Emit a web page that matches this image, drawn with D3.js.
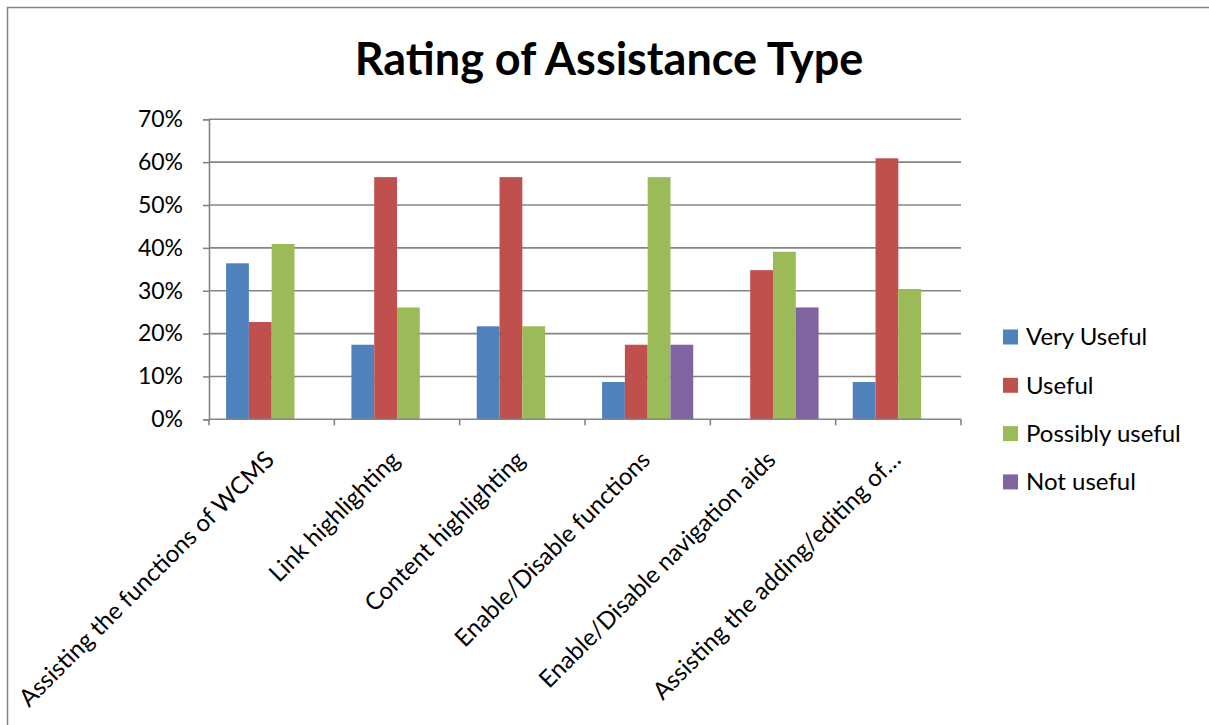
<!DOCTYPE html>
<html>
<head>
<meta charset="utf-8">
<script src="https://cdn.jsdelivr.net/npm/d3@7"></script>
<style>
  html, body { margin: 0; padding: 0; background: #fff; }
  svg { display: block; }
  text { font-family: Lato, "Open Sans", sans-serif; fill: #000; }
</style>
</head>
<body>
<svg id="chart" width="1209" height="725"></svg>
<script>
// Assistance types on the x axis
const categories = [
  "Assisting the functions of WCMS",
  "Link highlighting",
  "Content highlighting",
  "Enable/Disable functions",
  "Enable/Disable navigation aids",
  "Assisting the adding/editing of…"
];

// Share of respondents per rating (percent)
const seriesNames = ["Very Useful", "Useful", "Possibly useful", "Not useful"];
const veryUseful     = [36.4, 17.4, 21.7,  8.7,  0.0,  8.7];
const useful         = [22.7, 56.5, 56.5, 17.4, 34.8, 60.9];
const possiblyUseful = [40.9, 26.1, 21.7, 56.5, 39.1, 30.4];
const notUseful      = [ 0.0,  0.0,  0.0, 17.4, 26.1,  0.0];
const seriesColors = ["#4F81BD", "#C0504D", "#9BBB59", "#8064A2"];

const yTicks = [0, 10, 20, 30, 40, 50, 60, 70];
const chartTitle = "Rating of Assistance Type";

const seriesValues = [veryUseful, useful, possiblyUseful, notUseful];

const svg = d3.select("#chart");
const gridColor = "#848484";

// Outer chart-area frame
svg.append("rect")
  .attr("x", 7.5).attr("y", 7.5)
  .attr("width", 1230).attr("height", 760)
  .attr("fill", "none")
  .attr("stroke", gridColor)
  .attr("stroke-width", 1.5);

// Plot area
const plot = { left: 209, right: 961, top: 119.3, bottom: 419.3 };

const x = d3.scaleBand()
  .domain(categories)
  .range([plot.left, plot.right])
  .paddingInner(0)
  .paddingOuter(0);

// 4 slots per category, gap of 1.5 bar widths split around the group
const slotW = x.bandwidth() / (seriesNames.length + 1.5);
const xs = d3.scaleBand()
  .domain(seriesNames)
  .range([slotW * 0.75, x.bandwidth() - slotW * 0.75])
  .padding(0);

const y = d3.scaleLinear()
  .domain([0, 70])
  .range([plot.bottom, plot.top]);

// Horizontal gridlines
svg.append("g")
  .selectAll("line")
  .data(yTicks.filter(t => t > 0))
  .join("line")
  .attr("x1", plot.left).attr("x2", plot.right)
  .attr("y1", d => y(d)).attr("y2", d => y(d))
  .attr("stroke", gridColor)
  .attr("stroke-width", 1.6);

// Bars
const rows = categories.map((c, i) => ({
  category: c,
  values: seriesNames.map((s, k) => ({ series: s, k, value: seriesValues[k][i] }))
}));

svg.append("g")
  .selectAll("g")
  .data(rows)
  .join("g")
  .attr("transform", d => `translate(${x(d.category)},0)`)
  .selectAll("rect")
  .data(d => d.values)
  .join("rect")
  .attr("x", d => xs(d.series))
  .attr("width", xs.bandwidth())
  .attr("y", d => y(d.value))
  .attr("height", d => y(0) - y(d.value))
  .attr("fill", d => seriesColors[d.k]);

// Y axis
const yAxis = d3.axisLeft(y)
  .tickValues(yTicks)
  .tickFormat(d => d + "%")
  .tickSize(6)
  .tickPadding(20);

const gy = svg.append("g")
  .attr("transform", `translate(${plot.left},0)`)
  .call(yAxis);
gy.select(".domain").attr("stroke", gridColor).attr("stroke-width", 1.6);
gy.selectAll(".tick line").attr("stroke", gridColor).attr("stroke-width", 1.6);
gy.selectAll(".tick text")
  .attr("font-family", "Lato, sans-serif")
  .attr("font-size", 23)
  .attr("fill", "#000");

// X axis baseline with tick marks at category boundaries
const gx = svg.append("g");
gx.append("line")
  .attr("x1", plot.left).attr("x2", plot.right)
  .attr("y1", plot.bottom).attr("y2", plot.bottom)
  .attr("stroke", gridColor).attr("stroke-width", 1.6);
const boundaries = categories.map(c => x(c)).concat([x(categories[categories.length - 1]) + x.bandwidth()]);
gx.selectAll("line.tick")
  .data(boundaries)
  .join("line")
  .attr("class", "tick")
  .attr("x1", d => d).attr("x2", d => d)
  .attr("y1", plot.bottom).attr("y2", plot.bottom + 6)
  .attr("stroke", gridColor).attr("stroke-width", 1.6);

// Rotated category labels, ending under each category centre
gx.selectAll("text")
  .data(categories)
  .join("text")
  .attr("transform", d => `translate(${x(d) + x.bandwidth() / 2 + 4},${plot.bottom + 42}) rotate(-45)`)
  .attr("text-anchor", "end")
  .attr("font-size", 24)
  .text(d => d);

// Title
svg.append("text")
  .attr("x", 609).attr("y", 75)
  .attr("text-anchor", "middle")
  .attr("font-size", 45)
  .attr("font-weight", "bold")
  .text(chartTitle);

// Legend
const legend = svg.append("g")
  .selectAll("g")
  .data(seriesNames)
  .join("g")
  .attr("transform", (d, i) => `translate(1003,${337 + i * 48.3})`);
legend.append("rect")
  .attr("x", 0).attr("y", -7.5)
  .attr("width", 15).attr("height", 15)
  .attr("fill", (d, i) => seriesColors[i]);
legend.append("text")
  .attr("x", 23).attr("y", 0)
  .attr("dy", "0.35em")
  .attr("font-size", 24)
  .text(d => d);
</script>
</body>
</html>
